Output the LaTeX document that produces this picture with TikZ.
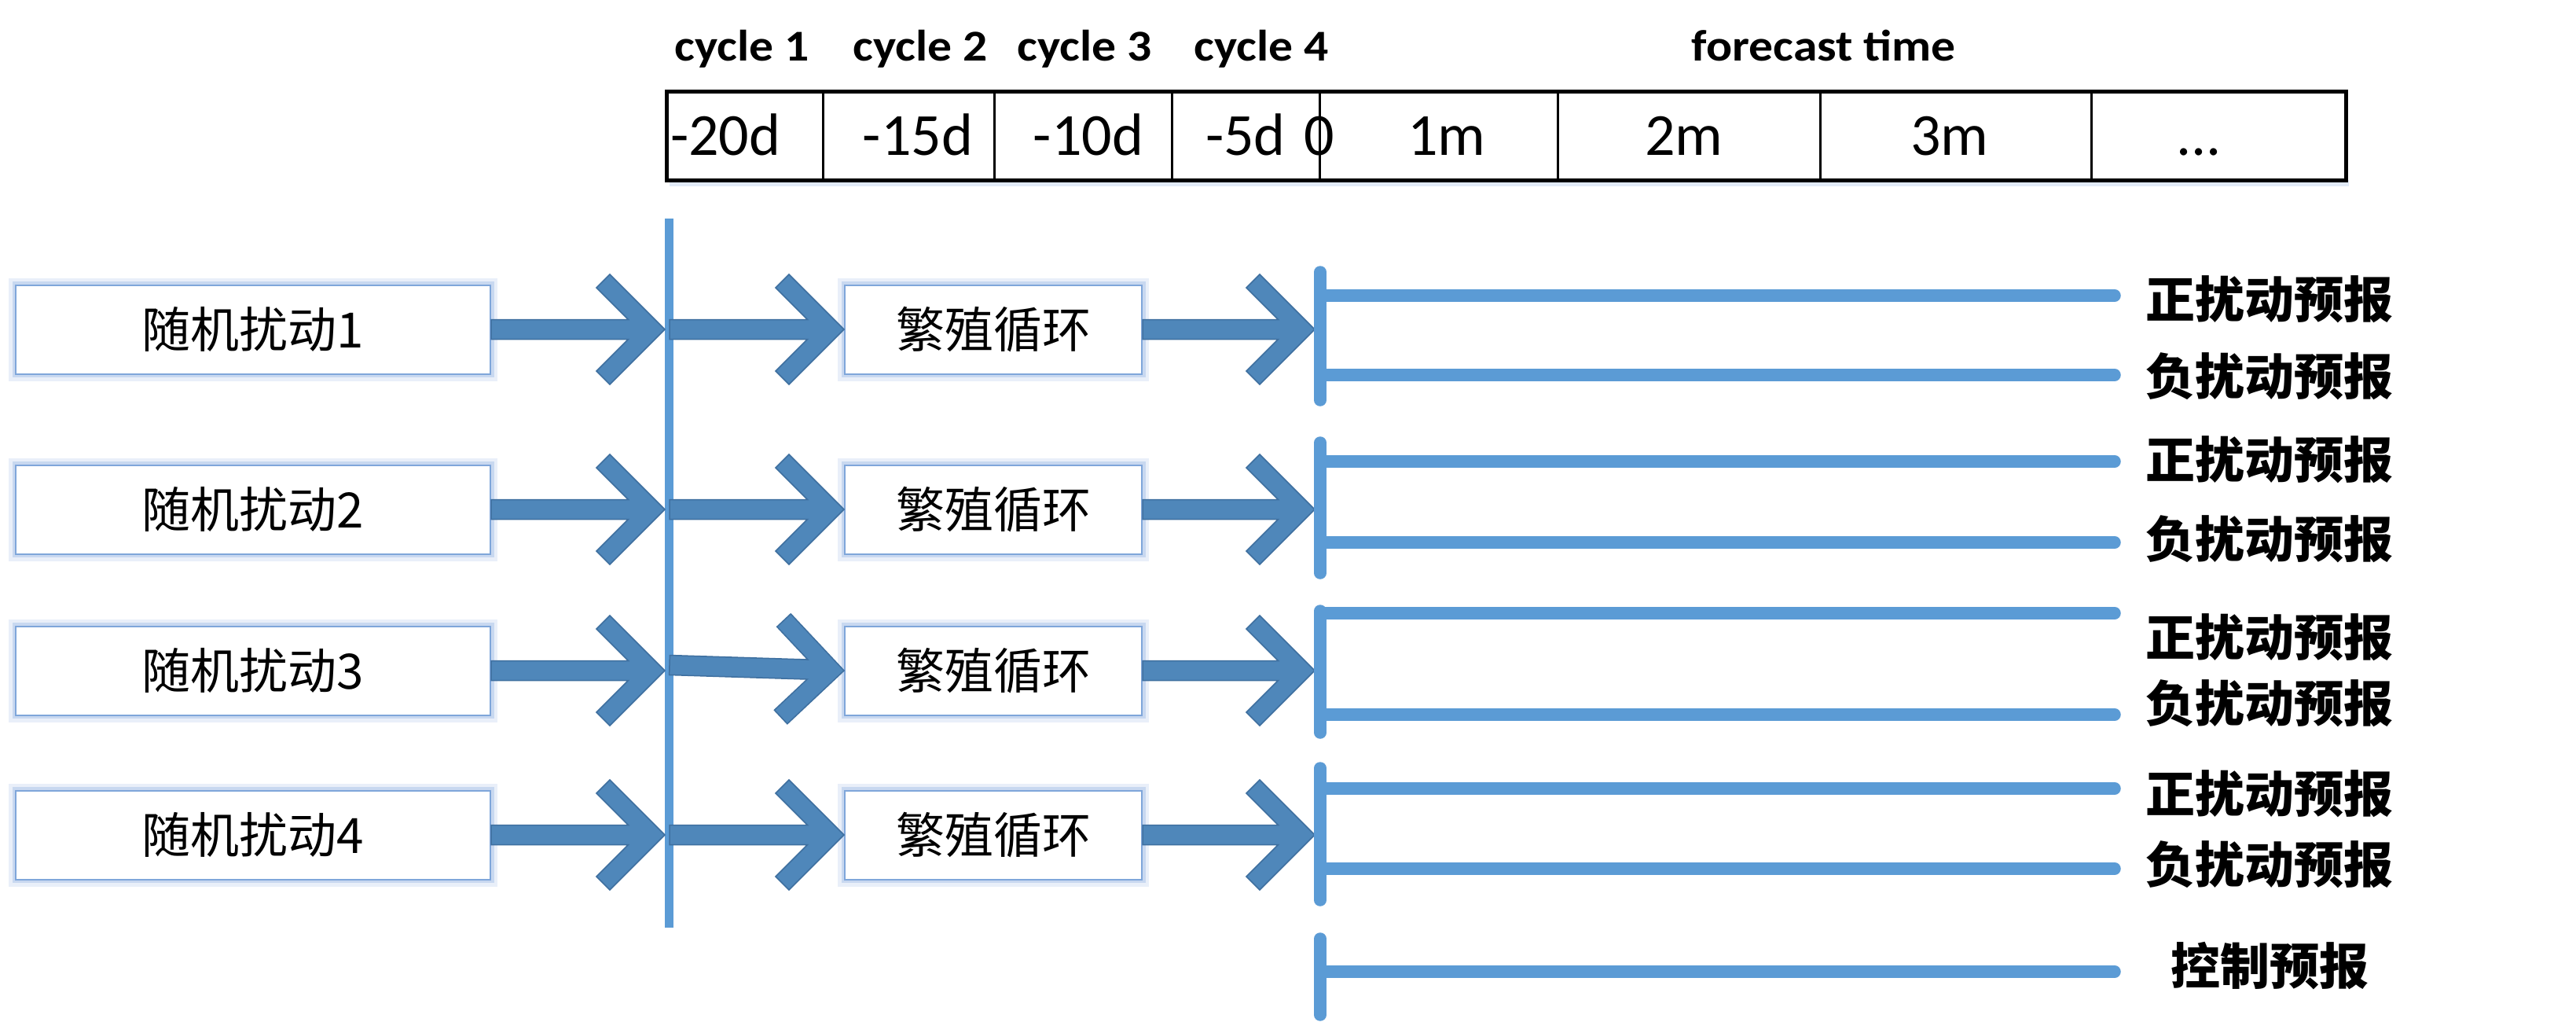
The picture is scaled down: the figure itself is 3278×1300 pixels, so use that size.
\documentclass[tikz,border=0pt]{standalone}
\usepackage{fontspec}
\setmainfont{Carlito}
\newfontfamily\hdrfont[FakeStretch=1.1]{Carlito}
\newfontfamily\cjk{Noto Sans CJK SC}
\usetikzlibrary{calc}
\definecolor{arrowfill}{HTML}{4F87BA}
\definecolor{arrowedge}{HTML}{3E6F9F}
\definecolor{linecol}{HTML}{5B9BD5}
\definecolor{boxedge}{HTML}{7FA6DA}
\definecolor{boxglow}{HTML}{A9C3E8}
\tikzset{
  box/.style={draw=boxedge, line width=2pt, fill=white, minimum height=113pt, inner sep=0pt,
    preaction={draw=boxglow, line width=18pt, opacity=0.25},
    preaction={draw=boxglow, line width=9pt, opacity=0.5},
    text height=51pt, text depth=4pt, font=\cjk\fontsize{62}{70}\selectfont},
  barrow/.style={fill=arrowfill, draw=arrowedge, line width=1.5pt, line join=miter},
  vlineA/.style={draw=linecol, line width=11pt, line cap=butt},
  fline/.style={draw=linecol, line width=15.5pt, line cap=round},
  lbl/.style={anchor=west, inner sep=0pt, text height=52pt, text depth=4.5pt,
    font=\cjk\bfseries\fontsize{63}{70}\selectfont},
  cell/.style={anchor=base, inner sep=0pt, font=\fontsize{76}{80}\selectfont},
  hdr/.style={anchor=base, inner sep=0pt, font=\hdrfont\bfseries\fontsize{56}{62}\selectfont},
}
\newcommand\blockarrow[2]{%
  \filldraw[barrow] let \p1=(#1), \p2=(#2), \n1={atan2(\y2-\y1,\x2-\x1)}, \n2={veclen(\x2-\x1,\y2-\y1)} in
  {[shift={(\p2)}, rotate=\n1] (0pt,0pt) -- (-70pt,70pt) -- (-87pt,53pt) -- (-46.5pt,12.5pt)
   -- ({-1pt*\n2},12.5pt) -- ({-1pt*\n2},-12.5pt) -- (-46.5pt,-12.5pt) -- (-87pt,-53pt)
   -- (-70pt,-70pt) -- cycle};}
\begin{document}
\begin{tikzpicture}[x=1pt,y=-1pt]
\useasboundingbox[fill=white] (0,0) rectangle (3278,1300);

% table
\fill[boxglow!35] (852,229) rectangle (2989,237);
\draw[line width=5pt, fill=white] (848,117) rectangle (2985,229);
\foreach \x in {1047,1265,1491,1679,1982,2316,2661}
  \draw[line width=3pt] (\x,117) -- (\x,229);
\node[hdr] (h1) at (944,78) {cycle 1};
\node[hdr] (h2) at (1171,78) {cycle 2};
\node[hdr] (h3) at (1380,78) {cycle 3};
\node[hdr] (h4) at (1605,78) {cycle 4};
\node[hdr] (h5) at (2321,78) {forecast time};
\node[cell, anchor=base west] (t1) at (853,198) {-20d};
\node[cell] (t2) at (1168,198) {-15d};
\node[cell] (t3) at (1385,198) {-10d};
\node[cell] (t4) at (1585,198) {-5d};
\node[cell] (t5) at (1679,198) {0};
\node[cell] (t6) at (1841,198) {1m};
\node[cell] (t7) at (2143,198) {2m};
\node[cell] (t8) at (2481,198) {3m};
\node[cell] (t9) at (2798,198) {...};

% vertical line 1
\coordinate (va) at (851,278);
\coordinate (vb) at (851,1180);
\draw[vlineA] (va) -- (vb);

% boxes
\foreach \i/\y in {1/419,2/648,3/853,4/1062}{
  \node[box, minimum width=604pt] (b\i) at (322,\y) {随机扰动\i};
  \node[box, minimum width=378pt] (c\i) at (1264,\y) {繁殖循环};
  \coordinate (p\i) at (846,\y);
  \coordinate (q\i) at (852,\y);
  \coordinate (r\i) at (1673,\y);
}
\coordinate (q3) at (852,846);
\foreach \i in {1,2,3,4}{
  \blockarrow{b\i.east}{p\i}
  \blockarrow{q\i}{c\i.west}
  \blockarrow{c\i.east}{r\i}
}

% forecast groups
\foreach \g/\ta/\tb/\la/\lb/\ya/\yb in
  {1/346/509/376/477/381/479, 2/563/729/587/690/585/686, 3/777/932/780/909/811/895, 4/977/1145/1003/1105/1010/1100}{
  \coordinate (gt\g) at (1680,\ta);
  \coordinate (gb\g) at (1680,\tb);
  \draw[fline] (gt\g) -- (gb\g);
  \node[lbl] (pos\g) at (2730,\ya) {正扰动预报};
  \node[lbl] (neg\g) at (2730,\yb) {负扰动预报};
  \coordinate (sa\g) at (1680,\la);
  \coordinate (ea\g) at (2691,\la);
  \coordinate (sb\g) at (1680,\lb);
  \coordinate (eb\g) at (2691,\lb);
  \draw[fline] (sa\g) -- (ea\g);
  \draw[fline] (sb\g) -- (eb\g);
}
\coordinate (gt5) at (1680,1194);
\coordinate (gb5) at (1680,1291);
\draw[fline] (gt5) -- (gb5);
\coordinate (sc) at (1680,1236);
\coordinate (ec) at (2691,1236);
\draw[fline] (sc) -- (ec);
\node[lbl] (ctrl) at (2762,1229) {控制预报};
\end{tikzpicture}
\end{document}
